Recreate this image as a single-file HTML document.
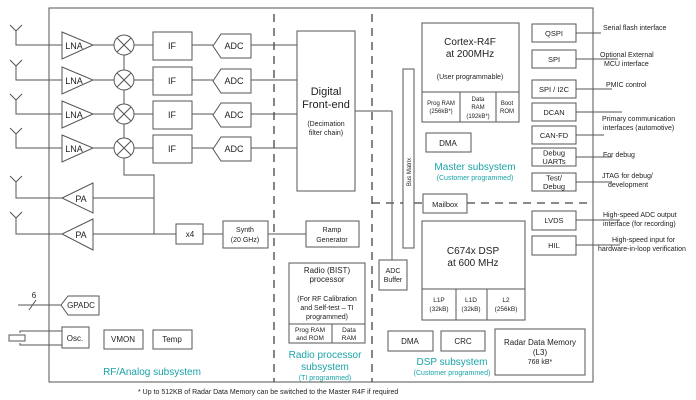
<!DOCTYPE html>
<html><head><meta charset="utf-8"><style>
body{margin:0;background:#fff}
svg{display:block;font-family:"Liberation Sans",Arial,sans-serif}
.b{fill:#fff;stroke:#555;stroke-width:1}
.l{stroke:#555;stroke-width:1;fill:none}
.d{stroke:#444;stroke-width:1.3;fill:none;stroke-dasharray:8,6}
text{fill:#222}
.t{fill:#1aa3a8}
</style></head><body>
<svg width="696" height="400" viewBox="0 0 696 400">
<rect x="49" y="8" width="544" height="374" class="l" stroke-width="1.3"/>
<line x1="274" y1="14" x2="274" y2="382" class="d"/>
<line x1="372" y1="14" x2="372" y2="382" class="d"/>
<line x1="372" y1="203" x2="423" y2="203" class="d"/>
<line x1="467" y1="203" x2="593" y2="203" class="d"/>

<!-- RX chains -->
<g id="rx">
<path class="l" d="M10 25 L16 31 L22 25 M16 31 V45 H62"/>
<polygon class="b" points="62,32 93,45 62,59"/>
<text x="74" y="49" font-size="9" text-anchor="middle">LNA</text>
<line class="l" x1="93" y1="45" x2="114" y2="45"/>
<circle cx="124" cy="45" r="10" class="b"/>
<path class="l" d="M117 38 L131 52 M131 38 L117 52"/>
<line class="l" x1="134" y1="45" x2="153" y2="45"/>
<rect x="153" y="32" width="39" height="28" class="b"/>
<text x="172" y="49" font-size="9" text-anchor="middle">IF</text>
<line class="l" x1="192" y1="45" x2="213" y2="45"/>
<polygon class="b" points="213,46 221,34 251,34 251,58 221,58"/>
<text x="234" y="49" font-size="9" text-anchor="middle">ADC</text>
<line class="l" x1="251" y1="45" x2="297" y2="45"/>
</g>
<use href="#rx" y="35"/>
<use href="#rx" y="69"/>
<use href="#rx" y="103"/>
<path class="l" d="M124 55 V70 M124 90 V104 M124 124 V138 M124 158 V175 H154 V234"/>

<!-- Digital front end -->
<rect x="297" y="31" width="58" height="160" class="b"/>
<text x="326" y="95" font-size="11" text-anchor="middle">Digital</text>
<text x="326" y="108" font-size="11" text-anchor="middle">Front-end</text>
<text x="326" y="126" font-size="7" text-anchor="middle">(Decimation</text>
<text x="326" y="135" font-size="7" text-anchor="middle">filter chain)</text>
<path class="l" d="M355 111 H392 V260"/>

<!-- PA -->
<path class="l" d="M10 176 L16 182 L22 176 M16 182 V198 H62"/>
<polygon class="b" points="93,183 62,198 93,213"/>
<text x="81" y="202" font-size="9" text-anchor="middle">PA</text>
<path class="l" d="M10 212 L16 218 L22 212 M16 218 V234 H62"/>
<polygon class="b" points="93,219 62,234 93,250"/>
<text x="81" y="238" font-size="9" text-anchor="middle">PA</text>
<path class="l" d="M93 198 H154 M93 234 H176"/>
<rect x="176" y="224" width="27" height="20" class="b"/>
<text x="190" y="237" font-size="8" text-anchor="middle">x4</text>
<line class="l" x1="203" y1="234" x2="223" y2="234"/>
<rect x="223" y="221" width="45" height="27" class="b"/>
<text x="245" y="232" font-size="7" text-anchor="middle">Synth</text>
<text x="245" y="242" font-size="7" text-anchor="middle">(20 GHz)</text>
<line class="l" x1="268" y1="234" x2="306" y2="234"/>
<rect x="306" y="221" width="53" height="26" class="b"/>
<text x="332" y="232" font-size="7" text-anchor="middle">Ramp</text>
<text x="332" y="242" font-size="7" text-anchor="middle">Generator</text>

<!-- GPADC etc -->
<line class="l" x1="18" y1="305" x2="61" y2="305"/>
<line class="l" x1="29" y1="310" x2="36" y2="300"/>
<text x="34" y="298" font-size="8" text-anchor="middle">6</text>
<polygon class="b" points="61,305 68,296 99,296 99,315 68,315"/>
<text x="81" y="308" font-size="8" text-anchor="middle">GPADC</text>
<path class="l" d="M20 333 V331 H62 M20 343 V345 H62"/>
<rect x="9" y="335" width="16" height="6" class="b"/>
<rect x="62" y="327" width="27" height="21" class="b"/>
<text x="75" y="341" font-size="8" text-anchor="middle">Osc.</text>
<rect x="104" y="330" width="39" height="19" class="b"/>
<text x="123" y="342" font-size="8" text-anchor="middle">VMON</text>
<rect x="153" y="330" width="39" height="19" class="b"/>
<text x="172" y="342" font-size="8" text-anchor="middle">Temp</text>
<text x="152" y="375" font-size="10" text-anchor="middle" class="t">RF/Analog subsystem</text>

<!-- Radio processor -->
<rect x="289" y="263" width="76" height="80" class="b"/>
<line class="l" x1="289" y1="324" x2="365" y2="324"/>
<line class="l" x1="332" y1="324" x2="332" y2="343"/>
<text x="327" y="273" font-size="8" text-anchor="middle">Radio (BIST)</text>
<text x="327" y="282" font-size="8" text-anchor="middle">processor</text>
<text x="327" y="301" font-size="7" text-anchor="middle">(For RF Calibration</text>
<text x="327" y="310" font-size="7" text-anchor="middle">and Self-test  – TI</text>
<text x="327" y="319" font-size="7" text-anchor="middle">programmed)</text>
<text x="310" y="332" font-size="6.5" text-anchor="middle">Prog RAM</text>
<text x="310" y="340" font-size="6.5" text-anchor="middle">and ROM</text>
<text x="349" y="332" font-size="6.5" text-anchor="middle">Data</text>
<text x="349" y="340" font-size="6.5" text-anchor="middle">RAM</text>
<text x="325" y="358" font-size="10" text-anchor="middle" class="t">Radio processor</text>
<text x="325" y="370" font-size="10" text-anchor="middle" class="t">subsystem</text>
<text x="325" y="380" font-size="7" text-anchor="middle" class="t">(TI programmed)</text>

<!-- ADC buffer, bus matrix -->
<rect x="379" y="260" width="28" height="30" class="b"/>
<text x="393" y="273" font-size="7" text-anchor="middle">ADC</text>
<text x="393" y="282" font-size="7" text-anchor="middle">Buffer</text>
<rect x="403" y="69" width="11" height="179" class="b"/>
<text transform="translate(411,172) rotate(-90)" font-size="6" text-anchor="middle">Bus Matrix</text>

<!-- Cortex -->
<rect x="422" y="23" width="97" height="99" class="b"/>
<line class="l" x1="422" y1="92" x2="519" y2="92"/>
<line class="l" x1="460" y1="92" x2="460" y2="122"/>
<line class="l" x1="496" y1="92" x2="496" y2="122"/>
<text x="470" y="45" font-size="10" text-anchor="middle">Cortex-R4F</text>
<text x="470" y="57" font-size="10" text-anchor="middle">at 200MHz</text>
<text x="470" y="79" font-size="7" text-anchor="middle">(User programmable)</text>
<text x="441" y="105" font-size="6" text-anchor="middle">Prog RAM</text>
<text x="441" y="113" font-size="6" text-anchor="middle">(256kB*)</text>
<text x="478" y="101" font-size="6" text-anchor="middle">Data</text>
<text x="478" y="109" font-size="6" text-anchor="middle">RAM</text>
<text x="478" y="118" font-size="6" text-anchor="middle">(192kB*)</text>
<text x="507" y="105" font-size="6" text-anchor="middle">Boot</text>
<text x="507" y="113" font-size="6" text-anchor="middle">ROM</text>
<rect x="426" y="133" width="45" height="19" class="b"/>
<text x="448" y="146" font-size="8" text-anchor="middle">DMA</text>
<text x="475" y="170" font-size="10" text-anchor="middle" class="t">Master subsystem</text>
<text x="475" y="180" font-size="7" text-anchor="middle" class="t">(Customer programmed)</text>
<rect x="423" y="194" width="44" height="19" class="b"/>
<text x="445" y="207" font-size="7.5" text-anchor="middle">Mailbox</text>

<!-- DSP -->
<rect x="422" y="221" width="103" height="99" class="b"/>
<line class="l" x1="422" y1="289" x2="525" y2="289"/>
<line class="l" x1="456" y1="289" x2="456" y2="320"/>
<line class="l" x1="487" y1="289" x2="487" y2="320"/>
<text x="473" y="254" font-size="10" text-anchor="middle">C674x DSP</text>
<text x="473" y="266" font-size="10" text-anchor="middle">at 600 MHz</text>
<text x="439" y="302" font-size="6.5" text-anchor="middle">L1P</text>
<text x="439" y="311" font-size="6.5" text-anchor="middle">(32kB)</text>
<text x="471" y="302" font-size="6.5" text-anchor="middle">L1D</text>
<text x="471" y="311" font-size="6.5" text-anchor="middle">(32kB)</text>
<text x="506" y="302" font-size="6.5" text-anchor="middle">L2</text>
<text x="506" y="311" font-size="6.5" text-anchor="middle">(256kB)</text>
<rect x="388" y="331" width="45" height="20" class="b"/>
<text x="410" y="344" font-size="8" text-anchor="middle">DMA</text>
<rect x="441" y="331" width="44" height="20" class="b"/>
<text x="463" y="344" font-size="8" text-anchor="middle">CRC</text>
<rect x="495" y="329" width="90" height="46" class="b"/>
<text x="540" y="345" font-size="8" text-anchor="middle">Radar Data Memory</text>
<text x="540" y="355" font-size="8" text-anchor="middle">(L3)</text>
<text x="540" y="364" font-size="7" text-anchor="middle">768 kB*</text>
<text x="452" y="365" font-size="10" text-anchor="middle" class="t">DSP subsystem</text>
<text x="452" y="375" font-size="7" text-anchor="middle" class="t">(Customer programmed)</text>

<!-- right peripherals -->
<g font-size="7.5" text-anchor="middle">
<rect x="532" y="24" width="44" height="18" class="b"/><text x="554" y="36">QSPI</text>
<rect x="532" y="50" width="44" height="18" class="b"/><text x="554" y="62">SPI</text>
<rect x="532" y="80" width="44" height="18" class="b"/><text x="554" y="92">SPI / I2C</text>
<rect x="532" y="103" width="44" height="18" class="b"/><text x="554" y="115">DCAN</text>
<rect x="532" y="126" width="44" height="18" class="b"/><text x="554" y="138">CAN-FD</text>
<rect x="532" y="148" width="44" height="18" class="b"/><text x="554" y="155.5">Debug</text><text x="554" y="164">UARTs</text>
<rect x="532" y="173" width="44" height="18" class="b"/><text x="554" y="180.5">Test/</text><text x="554" y="189">Debug</text>
<rect x="532" y="211" width="44" height="19" class="b"/><text x="554" y="223">LVDS</text>
<rect x="532" y="236" width="44" height="19" class="b"/><text x="554" y="248">HIL</text>
</g>
<path class="l" d="M576 33 H601 M576 59 H618 M576 89 H612 M576 112 H622 M576 135 H604 M576 157 H612 M576 182 H612 M576 220 H620 M576 245 H620"/>
<g font-size="7">
<text x="603" y="30">Serial flash interface</text>
<text x="600" y="57">Optional External</text>
<text x="604" y="66">MCU interface</text>
<text x="606" y="87">PMIC control</text>
<text x="602" y="121">Primary communication</text>
<text x="603" y="130">interfaces (automotive)</text>
<text x="603" y="157">For debug</text>
<text x="602" y="178">JTAG for debug/</text>
<text x="608" y="187">development</text>
<text x="603" y="217">High-speed ADC output</text>
<text x="603" y="226">interface (for recording)</text>
<text x="612" y="242">High-speed input for</text>
<text x="598" y="251">hardware-in-loop verification</text>
</g>
<text x="138" y="394" font-size="7">* Up to 512KB of Radar Data Memory can be switched to the Master R4F if required</text>
</svg>
</body></html>
